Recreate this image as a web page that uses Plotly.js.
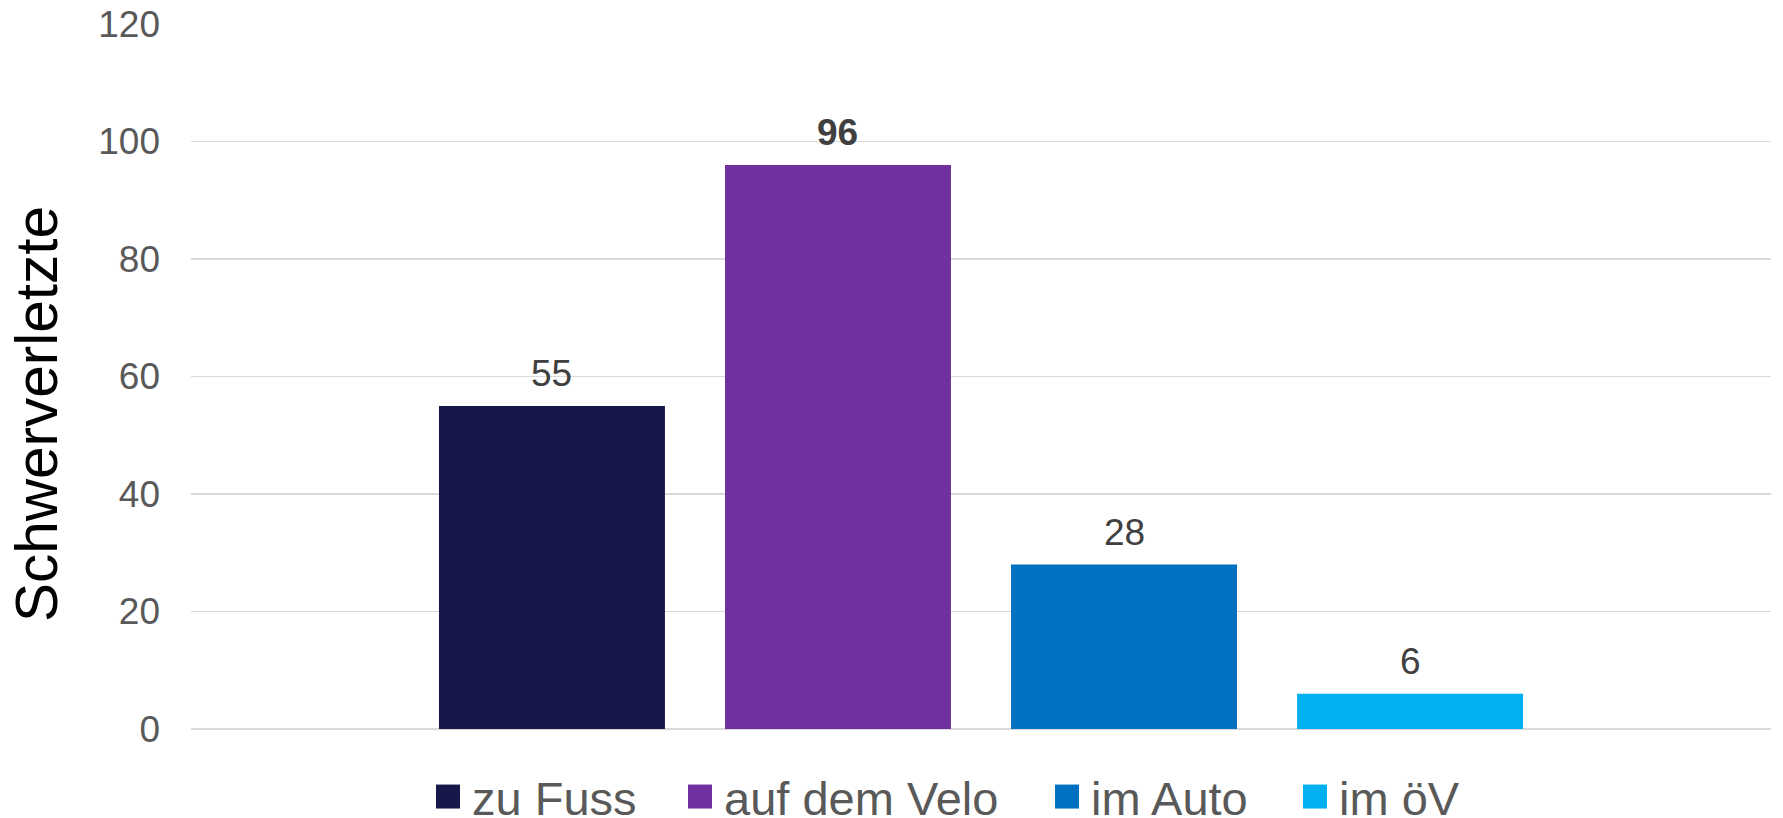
<!DOCTYPE html>
<html>
<head>
<meta charset="utf-8">
<script src="https://cdn.plot.ly/plotly-3.0.1.min.js"></script>
<style>
  html, body { margin: 0; padding: 0; background: #ffffff; }
  #chart { width: 1783px; height: 818px; }
</style>
</head>
<body>
<div id="chart"></div>
<script>
// ---- data ----
const categories = ['zu Fuss', 'auf dem Velo', 'im Auto', 'im öV'];
const values = [55, 96, 28, 6];
const colors = ['#17184A', '#7030A0', '#0070C0', '#00B0F0'];
const yTickValues = [0, 20, 40, 60, 80, 100, 120];
const yTitle = 'Schwerverletzte';

const FONT = '"Liberation Sans", Arial, Helvetica, sans-serif';
const W = 1783, H = 818;
const M = { l: 191, r: 12, t: 24, b: 89 };
const plotW = W - M.l - M.r;
const plotH = H - M.t - M.b;

// legend layout (pixel positions of symbol centres in the chart)
const legendNames = ['legend', 'legend2', 'legend3', 'legend4'];
const legendSymbolCentres = [448, 700, 1067, 1315];
const legendCentreY = 797;
const ITEMWIDTH = 38;
const TEXTGAP = ITEMWIDTH + 10;

const traces = categories.map((c, i) => ({
  type: 'bar',
  name: c,
  x: [c],
  y: [values[i]],
  marker: { color: colors[i] },
  legend: legendNames[i],
  hoverinfo: 'name+y'
}));

const annotations = categories.map((c, i) => ({
  x: c,
  y: values[i],
  xref: 'x',
  yref: 'y',
  text: values[i] === Math.max(...values) ? '<b>' + values[i] + '</b>' : String(values[i]),
  showarrow: false,
  xanchor: 'center',
  yanchor: 'bottom',
  yshift: 10,
  font: { family: FONT, size: 37, color: '#404040' }
}));

annotations.push({
  text: yTitle,
  xref: 'paper',
  yref: 'paper',
  x: (36 - M.l) / plotW,
  y: (H - M.b - 414) / plotH,
  xanchor: 'center',
  yanchor: 'middle',
  textangle: -90,
  showarrow: false,
  font: { family: FONT, size: 58.5, color: '#000000' }
});

const layout = {
  width: W,
  height: H,
  margin: { l: M.l, r: M.r, t: M.t, b: M.b, autoexpand: false },
  paper_bgcolor: '#ffffff',
  plot_bgcolor: '#ffffff',
  font: { family: FONT, color: '#595959' },
  barmode: 'overlay',
  bargap: 0.21,
  showlegend: true,
  xaxis: {
    type: 'category',
    categoryarray: categories,
    range: [-1.262, 4.262],
    showticklabels: false,
    showgrid: false,
    zeroline: false,
    showline: false,
    ticks: ''
  },
  yaxis: {
    range: [0, 120],
    tickvals: yTickValues,
    ticktext: yTickValues.map(String),
    showgrid: true,
    gridcolor: '#D9D9D9',
    gridwidth: 1.5,
    zeroline: true,
    zerolinecolor: '#D9D9D9',
    zerolinewidth: 1.5,
    showline: false,
    ticks: '',
    ticklabelstandoff: 30,
    tickfont: { family: FONT, size: 37, color: '#595959' }
  },
  annotations: annotations
};

legendNames.forEach((ln, i) => {
  layout[ln] = {
    orientation: 'h',
    xref: 'container',
    yref: 'container',
    x: (legendSymbolCentres[i] - TEXTGAP / 2) / W,
    y: 1 - legendCentreY / H,
    xanchor: 'left',
    yanchor: 'middle',
    itemwidth: ITEMWIDTH,
    bgcolor: 'rgba(0,0,0,0)',
    borderwidth: 0,
    font: { family: FONT, size: 47, color: '#595959' }
  };
});

function enlargeLegendSymbols() {
  document.querySelectorAll('#chart .legendpoints path').forEach(p => {
    p.setAttribute('d', 'M12,12H-12V-12H12Z');
    p.style.strokeWidth = '0px';
  });
}

const gd = document.getElementById('chart');
const drawn = Plotly.newPlot(gd, traces, layout, { displayModeBar: false, staticPlot: true });
enlargeLegendSymbols();
if (drawn && drawn.then) {
  drawn.then(() => {
    enlargeLegendSymbols();
    if (gd.on) gd.on('plotly_afterplot', enlargeLegendSymbols);
  });
}
setTimeout(enlargeLegendSymbols, 0);
setTimeout(enlargeLegendSymbols, 50);
window.addEventListener('load', enlargeLegendSymbols);
</script>
</body>
</html>
